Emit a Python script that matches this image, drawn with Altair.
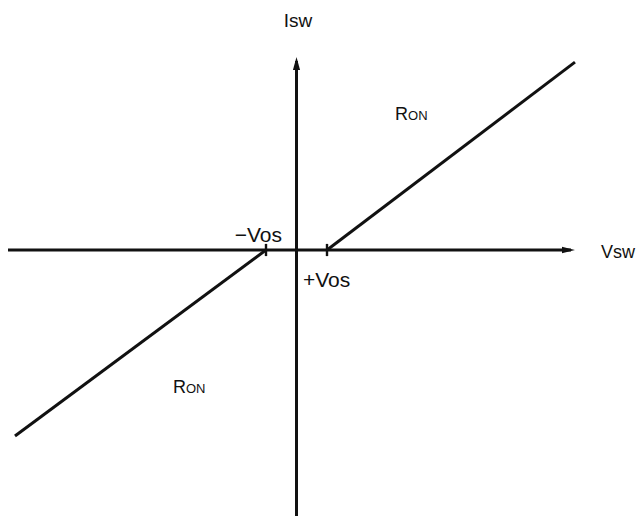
import altair as alt
import pandas as pd

# ---- data (units: 1 unit = Vos on the Vsw axis; same scale on Isw) ----
VOS = 1.0
vsw_axis = [-9.55, 9.0]          # horizontal axis line extent
vsw_arrow_tip = 9.13
isw_axis = [-8.85, 6.2]          # vertical axis line extent
isw_arrow_tip = 6.33
right_v = [VOS, 9.13]
right_i = [0.0, 6.16]
left_v = [-VOS, -9.23]
left_i = [0.0, -6.10]
tick_v = [-VOS, VOS]
tick_i = [-0.2, 0.2]

# label anchors (data units)
lab_isw = ("Isw", 0.05, 7.31)
lab_vsw = ("Vsw", 9.98, -0.26)
lab_mvos = ("\u2212Vos", -0.475, 0.26)
lab_pvos = ("+Vos", 0.21, -1.21)
ron_v = [3.23, -4.05]
ron_i = [4.26, -4.69]

xs = alt.Scale(domain=[-9.459, 11.131], nice=False, zero=False)
ys = alt.Scale(domain=[-8.721, 7.934], nice=False, zero=False)
INK = "#111111"
FONT = "Liberation Sans"
SW = 3.0


def X(f):
    return alt.X(f, type="quantitative", scale=xs, axis=None)


def Y(f):
    return alt.Y(f, type="quantitative", scale=ys, axis=None)


branches = pd.DataFrame({
    "v": right_v + left_v,
    "i": right_i + left_i,
    "branch": ["right"] * 2 + ["left"] * 2,
})
lines = alt.Chart(branches).mark_line(color=INK, strokeWidth=SW).encode(
    x=X("v"), y=Y("i"), detail="branch:N"
)

h_axis = alt.Chart(pd.DataFrame({"v0": [vsw_axis[0]], "v1": [vsw_axis[1]], "i": [0.0]})).mark_rule(
    color=INK, strokeWidth=SW
).encode(x=X("v0"), x2="v1", y=Y("i"))

v_axis = alt.Chart(pd.DataFrame({"v": [0.0], "i0": [isw_axis[0]], "i1": [isw_axis[1]]})).mark_rule(
    color=INK, strokeWidth=SW
).encode(x=X("v"), y=Y("i0"), y2="i1")

ticks = alt.Chart(pd.DataFrame({"v": tick_v, "i0": [tick_i[0]] * 2, "i1": [tick_i[1]] * 2})).mark_rule(
    color=INK, strokeWidth=2.4
).encode(x=X("v"), y=Y("i0"), y2="i1")

up_arrow = alt.Chart(pd.DataFrame({"v": [0.0], "i": [isw_arrow_tip]})).mark_point(
    shape="M0,0L-0.55,2L0.55,2Z", filled=True, size=169, color=INK, opacity=1, strokeWidth=0
).encode(x=X("v"), y=Y("i"))

right_arrow = alt.Chart(pd.DataFrame({"v": [vsw_arrow_tip], "i": [0.0]})).mark_point(
    shape="M0,0L-2,-0.5L-2,0.5Z", filled=True, size=169, color=INK, opacity=1, strokeWidth=0
).encode(x=X("v"), y=Y("i"))


def text_layer(rows, size, align, dx=0):
    df = pd.DataFrame(rows, columns=["label", "v", "i"])
    return alt.Chart(df).mark_text(
        font=FONT, fontSize=size, align=align, baseline="alphabetic", color=INK, dx=dx
    ).encode(x=X("v"), y=Y("i"), text="label:N")


t_isw = text_layer([lab_isw], 19, "center")
t_vsw = text_layer([lab_vsw], 18, "left")
t_pvos = text_layer([lab_pvos], 21, "left")
t_mvos = text_layer([lab_mvos], 21, "right")
t_r = text_layer([("R", v, i) for v, i in zip(ron_v, ron_i)], 18, "left")
t_on = text_layer([("ON", v, i) for v, i in zip(ron_v, ron_i)], 13, "left", dx=13)

chart = alt.layer(
    h_axis, v_axis, ticks, lines, up_arrow, right_arrow,
    t_isw, t_vsw, t_pvos, t_mvos, t_r, t_on
).properties(
    width=628, height=508, autosize=alt.AutoSizeParams(type="none"), padding=0
).configure_view(stroke=None)

chart.save("out.html", embed_options={"renderer": "svg", "actions": False})
